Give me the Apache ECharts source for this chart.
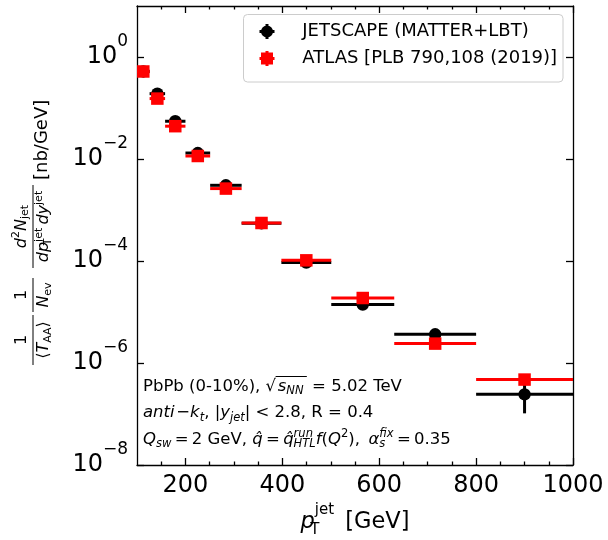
<!DOCTYPE html>
<html>
<head>
<meta charset="utf-8">
<script src="https://cdn.jsdelivr.net/npm/echarts@6/dist/echarts.min.js"></script>
<style>html,body{margin:0;padding:0;background:#fff}#chart{width:608px;height:540px}</style>
</head>
<body>
<div id="chart"></div>
<script>
// Jet pT bin edges [GeV]
const binEdges = [100, 126, 158, 200, 251, 316, 398, 501, 631, 800, 1000];
// JETSCAPE (MATTER+LBT) jet spectrum [nb/GeV] and its uncertainty
const jetscapeValues = [0.52, 0.191, 0.055, 0.0131, 0.00305, 5.5e-4, 9.3e-5, 1.40e-5, 3.65e-6, 2.43e-7];
const jetscapeErrors = [0, 0, 0, 0, 0, 0, 0, 0, 0, 1.4e-7];
// ATLAS measurement [nb/GeV]
const atlasValues = [0.52, 0.153, 0.044, 0.01145, 0.00263, 5.56e-4, 1.03e-4, 1.88e-5, 2.4e-6, 4.73e-7];
const atlasErrors = [0, 0, 0, 0, 0, 0, 0, 0, 0, 0];
// Tick positions
const xTickValues = [200, 400, 600, 800, 1000];
const yTickValues = [1e-8, 1e-6, 1e-4, 1e-2, 1];
const legendNames = ['JETSCAPE (MATTER+LBT)', 'ATLAS [PLB 790,108 (2019)]'];

const FONT = 'DejaVu Sans';
const BLACK = '#000000';
const RED = '#ff0000';
const NOTE_SIZE = 16.5;
const NOTE_SCRIPT = 11.5;
const NOTE_LEFT = 143;
const NOTE_TOPS = [373, 399.5, 426];

function rows(values, errors) {
  return values.map((v, i) => [binEdges[i], binEdges[i + 1], v, errors[i]]);
}

const measureCtx = document.createElement('canvas').getContext('2d');
function textWidth(str, size, italic) {
  measureCtx.font = (italic ? 'italic ' : '') + size + 'px "' + FONT + '"';
  return measureCtx.measureText(str).width;
}

// One point: horizontal bin bar, optional vertical error bar, marker on top
function makeRenderer(color, shape) {
  return function (params, api) {
    const lo = api.value(0), hi = api.value(1), y = api.value(2), err = api.value(3);
    const mid = (lo + hi) / 2;
    const a = api.coord([lo, y]), b = api.coord([hi, y]), c = api.coord([mid, y]);
    const children = [{
      type: 'line', shape: { x1: a[0], y1: a[1], x2: b[0], y2: b[1] },
      style: { stroke: color, lineWidth: 3 }
    }];
    if (err > 0) {
      const t = api.coord([mid, y + err]), u = api.coord([mid, y - err]);
      children.push({
        type: 'line', shape: { x1: c[0], y1: t[1], x2: c[0], y2: u[1] },
        style: { stroke: color, lineWidth: 3 }
      });
    }
    if (shape === 'circle') {
      children.push({ type: 'circle', shape: { cx: c[0], cy: c[1], r: 6.2 }, style: { fill: color } });
    } else {
      children.push({ type: 'rect', shape: { x: c[0] - 6.25, y: c[1] - 6.25, width: 12.5, height: 12.5 }, style: { fill: color } });
    }
    return { type: 'group', children: children };
  };
}

const tickLine = { color: BLACK, width: 1.3 };
function xAxisDef(pos, withLabels) {
  return {
    type: 'value', position: pos, min: 100, max: 1000,
    axisLine: { show: true, onZero: false, lineStyle: { color: BLACK, width: 1.3 } },
    axisTick: { show: true, inside: true, length: 7, customValues: xTickValues, lineStyle: tickLine },
    minorTick: { show: true, splitNumber: 4, length: 3.5, lineStyle: tickLine },
    splitLine: { show: false },
    axisLabel: {
      show: withLabels, customValues: xTickValues, margin: 9, color: BLACK,
      fontSize: 24, fontFamily: FONT,
      formatter: function (v) { return String(v); }
    }
  };
}
function yAxisDef(pos, withLabels) {
  return {
    type: 'log', logBase: 10, position: pos, min: 1e-8, max: 10,
    axisLine: { show: true, onZero: false, lineStyle: { color: BLACK, width: 1.3 } },
    axisTick: { show: true, inside: true, length: 7, customValues: yTickValues, lineStyle: tickLine },
    minorTick: { show: false },
    splitLine: { show: false },
    axisLabel: {
      show: withLabels, customValues: yTickValues, margin: 9,
      formatter: function (v) {
        const e = Math.round(Math.log10(v));
        return '{b|10}{s|' + (e < 0 ? '\u2212' + (-e) : String(e)) + '}';
      },
      rich: {
        b: { fontSize: 24, fontFamily: FONT, color: BLACK, lineHeight: 24 },
        s: { fontSize: 17, fontFamily: FONT, color: BLACK, lineHeight: 24, padding: [0, 0, 31, 0] }
      }
    }
  };
}

// rich styles for the in-plot annotation
function noteStyle(size, italic, pad, width) {
  const s = { fontSize: size, fontFamily: FONT, fill: BLACK, lineHeight: 26.5 };
  if (italic) s.fontStyle = 'italic';
  if (pad) s.padding = pad;
  if (width !== undefined) s.width = width;
  return s;
}
const SUB_PAD = [10, 0, 0, 0];
const SUP_PAD = [0, 0, 11, 0];
const noteRich = {
  r: noteStyle(NOTE_SIZE, false),
  i: noteStyle(NOTE_SIZE, true),
  sub: noteStyle(NOTE_SCRIPT, true, SUB_PAD),
  subz: noteStyle(NOTE_SCRIPT, true, SUB_PAD, 0),
  sup: noteStyle(NOTE_SCRIPT, true, SUP_PAD),
  supn: noteStyle(NOTE_SCRIPT, false, SUP_PAD),
  supz: noteStyle(NOTE_SCRIPT, true, SUP_PAD, 0)
};
function noteText(y, text) {
  return {
    type: 'text', z: 5,
    style: { x: NOTE_LEFT, y: y, text: text, rich: noteRich, fontSize: NOTE_SIZE, fontFamily: FONT, fill: BLACK, align: 'left', verticalAlign: 'top' }
  };
}
// vinculum over s_NN of the square root
const rootPrefix = 'PbPb (0-10%), \u221A\u200A';
const rootX1 = NOTE_LEFT + textWidth('PbPb (0-10%), \u221A', NOTE_SIZE, false);
const rootX2 = NOTE_LEFT + textWidth(rootPrefix, NOTE_SIZE, false) + textWidth('s', NOTE_SIZE, true) + textWidth('NN', NOTE_SCRIPT, true) + textWidth('\u2009', NOTE_SIZE, false);

// rich styles for the fractions of the y-axis title
const FR = 16, FS = 11;
const fracRich = {
  rr: { fontSize: FR, fontFamily: FONT, fill: BLACK, lineHeight: 19 },
  ri: { fontSize: FR, fontFamily: FONT, fontStyle: 'italic', fill: BLACK, lineHeight: 19 },
  rsubn: { fontSize: FS, fontFamily: FONT, fill: BLACK, lineHeight: 19, padding: [8, 0, 0, 0] },
  rsubz: { fontSize: FS, fontFamily: FONT, fill: BLACK, lineHeight: 19, padding: [8, 0, 0, 0], width: 0 },
  rsup: { fontSize: FS, fontFamily: FONT, fill: BLACK, lineHeight: 19, padding: [0, 0, 10, 0] }
};
function fracPart(x, y, text, vAlign) {
  return {
    type: 'text',
    style: { x: x, y: y, text: text, rich: fracRich, fontSize: FR, fontFamily: FONT, fill: BLACK, align: 'center', verticalAlign: vAlign }
  };
}
function fracBar(x1, x2) {
  return { type: 'line', shape: { x1: x1, y1: 0, x2: x2, y2: 0 }, style: { stroke: BLACK, lineWidth: 1 } };
}

const chart = echarts.init(document.getElementById('chart'), null, { renderer: 'canvas' });
chart.setOption({
  animation: false,
  backgroundColor: '#ffffff',
  grid: { left: 137, top: 6, right: 35, bottom: 75, outerBoundsMode: 'none' },
  xAxis: [
    Object.assign(xAxisDef('bottom', true), {
      name: '{i|p}{tz|T}{j|jet}{r|\u2002[GeV]}',
      nameLocation: 'middle', nameGap: 41,
      nameTextStyle: {
        fontFamily: FONT, fontSize: 22.5, color: BLACK,
        rich: {
          i: { fontSize: 22.5, fontFamily: FONT, fontStyle: 'italic', color: BLACK, lineHeight: 26 },
          tz: { fontSize: 15, fontFamily: FONT, color: BLACK, lineHeight: 26, width: 0, padding: [16, 0, 0, 0] },
          j: { fontSize: 15, fontFamily: FONT, color: BLACK, lineHeight: 26, padding: [0, 0, 24, 0] },
          r: { fontSize: 22.5, fontFamily: FONT, color: BLACK, lineHeight: 26 }
        }
      }
    }),
    xAxisDef('top', false)
  ],
  yAxis: [yAxisDef('left', true), yAxisDef('right', false)],
  legend: {
    show: true, orient: 'vertical', left: 259.5, top: 22.5, padding: 0,
    itemWidth: 60.6, itemHeight: 15, itemGap: 9, symbolKeepAspect: true, selectedMode: false,
    textStyle: { fontFamily: FONT, fontSize: 18, color: BLACK, lineHeight: 18 },
    data: [
      { name: legendNames[0], icon: 'path://M6,0h3v15h-3zM0,6h15v3h-15zM13.5,7.5a6,6 0 1 1 -12,0a6,6 0 1 1 12,0z', itemStyle: { color: BLACK } },
      { name: legendNames[1], icon: 'path://M6,0h3v15h-3zM0,6h15v3h-15zM1.5,1.5h12v12h-12z', itemStyle: { color: RED } }
    ]
  },
  series: [
    {
      type: 'custom', name: legendNames[0], itemStyle: { color: BLACK },
      renderItem: makeRenderer(BLACK, 'circle'),
      encode: { x: [0, 1], y: 2 }, data: rows(jetscapeValues, jetscapeErrors), z: 3
    },
    {
      type: 'custom', name: legendNames[1], itemStyle: { color: RED },
      renderItem: makeRenderer(RED, 'square'),
      encode: { x: [0, 1], y: 2 }, data: rows(atlasValues, atlasErrors), z: 3
    }
  ],
  graphic: [
    // legend frame
    {
      type: 'rect', z: 3,
      shape: { x: 243.5, y: 14.5, width: 319.5, height: 67.5, r: 4 },
      style: { fill: 'rgba(255,255,255,0.8)', stroke: '#cccccc', lineWidth: 1 }
    },
    // y-axis title, rotated to read bottom-to-top
    {
      type: 'group', x: 33, y: 363, rotation: Math.PI / 2,
      children: [
        fracBar(-2, 48),
        fracPart(23, -2, '{rr|1}', 'bottom'),
        fracPart(23, 1.5, '{rr|\u27E8}{ri|T}{rsubn|AA}{rr|\u27E9}', 'top'),
        fracBar(51, 85),
        fracPart(68, -2, '{rr|1}', 'bottom'),
        fracPart(68, 1.5, '{ri|N}{rsubn|ev}', 'top'),
        fracBar(95, 178),
        fracPart(136.5, -2, '{ri|d}{rsup|2}{ri|N}{rsubn|jet}', 'bottom'),
        fracPart(136.5, 1.5, '{ri|dp}{rsubz|T}{rsup|jet}{rr|\u2009}{ri|dy}{rsup|jet}', 'top'),
        {
          type: 'text',
          style: { x: 183, y: 9.5, text: '[nb/GeV]', fontSize: 18, fontFamily: FONT, fill: BLACK, align: 'left', verticalAlign: 'middle' }
        }
      ]
    },
    // collision / jet / model annotation
    noteText(NOTE_TOPS[0], '{r|' + rootPrefix + '}{i|s}{sub|NN}{r|\u2009 = 5.02 TeV}'),
    noteText(NOTE_TOPS[1], '{i|anti}{r|\u200A\u2212}{i|k}{sub|t}{r|, |}{i|y}{sub|jet}{r|| < 2.8, R = 0.4}'),
    noteText(NOTE_TOPS[2], '{i|Q}{sub|sw}{r|\u2009=\u20092 GeV, }{i|q\u0302}{r|\u2009=\u2009}{i|q\u0302}{supz|run}{sub|HTL}{i|f}{r|(}{i|Q}{supn|2}{r|),\u2009 }{i|\u03B1}{subz|s}{sup|fix}{r|\u2009=\u20090.35}'),
    {
      type: 'line', z: 5,
      shape: { x1: rootX1 - 0.5, y1: NOTE_TOPS[0] + 3.5, x2: rootX2, y2: NOTE_TOPS[0] + 3.5 },
      style: { stroke: BLACK, lineWidth: 1 }
    }
  ]
});
</script>
</body>
</html>
